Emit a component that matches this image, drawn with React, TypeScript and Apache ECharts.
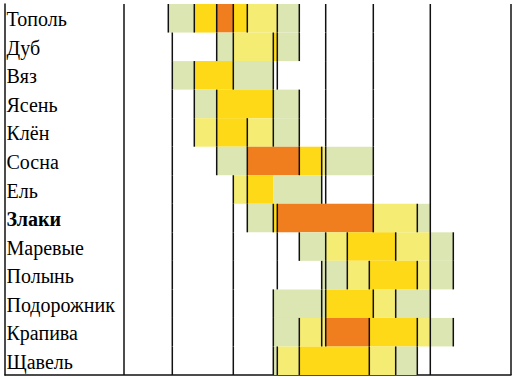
import React, { useEffect, useRef } from "react";
import * as echarts from "echarts";

// Plants (rows, top to bottom)
const plants = [
  "Тополь", "Дуб", "Вяз", "Ясень", "Клён", "Сосна", "Ель",
  "Злаки", "Маревые", "Полынь", "Подорожник", "Крапива", "Щавель",
];
const boldPlants = ["Злаки"];

// Intensity levels: 1 low, 2 moderate, 3 high, 4 very high
const levelColors = ["#DCE6B3", "#F5EC74", "#FDD918", "#F07E1F"];

// Segments per plant: [start, end, level] on the season scale
const topol = [[168.3, 194.3, 1], [194.3, 216.7, 3], [216.7, 233.3, 4], [233.3, 247.3, 3], [247.3, 277.3, 2], [277.3, 299.3, 1]];
const dub = [[216.7, 233.3, 1], [233.3, 273.3, 2], [273.3, 277.3, 3], [277.3, 299.3, 1]];
const vyaz = [[172.3, 194.3, 1], [194.3, 233.3, 3], [233.3, 273.3, 1]];
const yasen = [[194.3, 216.7, 1], [216.7, 273.3, 3], [273.3, 299.3, 1]];
const klen = [[194.3, 216.7, 2], [216.7, 247.3, 3], [247.3, 273.3, 2], [273.3, 299.3, 1]];
const sosna = [[216.7, 247.3, 1], [247.3, 299.3, 4], [299.3, 321.7, 3], [321.7, 325.7, 2], [325.7, 373.3, 1]];
const el = [[233.3, 247.3, 2], [247.3, 273.3, 3], [273.3, 321.7, 1]];
const zlaki = [[247.3, 273.3, 1], [273.3, 277.3, 3], [277.3, 373.3, 4], [373.3, 417.3, 2], [417.3, 430.3, 1]];
const marevye = [[299.3, 325.7, 1], [325.7, 347.3, 2], [347.3, 395.7, 3], [395.7, 430.3, 2], [430.3, 453.3, 1]];
const polyn = [[321.7, 347.3, 1], [347.3, 369.3, 2], [369.3, 417.3, 3], [417.3, 430.3, 2], [430.3, 453.3, 1]];
const podorozhnik = [[273.3, 325.7, 1], [325.7, 373.3, 3], [373.3, 395.7, 2], [395.7, 430.3, 1]];
const krapiva = [[273.3, 299.3, 1], [299.3, 325.7, 2], [325.7, 369.3, 4], [369.3, 417.3, 3], [417.3, 430.3, 2], [430.3, 453.3, 1]];
const shchavel = [[273.3, 277.3, 1], [277.3, 299.3, 2], [299.3, 369.3, 3], [369.3, 395.7, 2], [395.7, 417.3, 1]];
const segmentsByRow = [topol, dub, vyaz, yasen, klen, sosna, el, zlaki, marevye, polyn, podorozhnik, krapiva, shchavel];

// Period boundaries marked in each row
const topolMarks = [168.3, 194.3, 216.7, 233.3, 247.3, 277.3, 299.3, 325.7, 373.3];
const dubMarks = [172.3, 216.7, 233.3, 273.3, 277.3, 299.3, 325.7, 373.3];
const vyazMarks = [172.3, 194.3, 233.3, 273.3, 277.3, 325.7, 373.3];
const yasenMarks = [172.3, 194.3, 216.7, 273.3, 299.3, 325.7, 373.3];
const klenMarks = [172.3, 194.3, 216.7, 247.3, 273.3, 299.3, 325.7, 373.3];
const sosnaMarks = [172.3, 216.7, 247.3, 299.3, 321.7, 325.7, 373.3];
const elMarks = [172.3, 233.3, 247.3, 321.7, 325.7, 373.3];
const zlakiMarks = [172.3, 233.3, 247.3, 273.3, 277.3, 373.3, 417.3];
const marevyeMarks = [172.3, 233.3, 277.3, 299.3, 325.7, 347.3, 395.7, 453.3];
const polynMarks = [172.3, 233.3, 277.3, 321.7, 325.7, 347.3, 369.3, 417.3, 453.3];
const podorozhnikMarks = [172.3, 233.3, 273.3, 321.7, 325.7, 373.3, 395.7];
const krapivaMarks = [172.3, 233.3, 273.3, 299.3, 321.7, 325.7, 369.3, 417.3, 453.3];
const shchavelMarks = [172.3, 233.3, 273.3, 277.3, 299.3, 369.3, 395.7, 417.3];
const marksByRow = [topolMarks, dubMarks, vyazMarks, yasenMarks, klenMarks, sosnaMarks, elMarks, zlakiMarks, marevyeMarks, polynMarks, podorozhnikMarks, krapivaMarks, shchavelMarks];

// Column lines spanning the whole table
const fullLines = [124, 430.3, 511];

const scaleMin = 5;
const scaleMax = 511;

export default function App() {
  const ref = useRef<HTMLDivElement>(null);

  useEffect(() => {
    if (!ref.current) return;
    const chart = echarts.init(ref.current, null, { renderer: "svg" });

    const rectData: number[][] = [];
    segmentsByRow.forEach((segs, r) => segs.forEach((s) => rectData.push([r, s[0], s[1], s[2]])));
    const markData: number[][] = [];
    marksByRow.forEach((ms, r) => ms.forEach((x) => markData.push([r, x])));
    const fullData = fullLines.map((x) => [x]);
    const labelData = plants.map((_, i) => [i, scaleMin]);

    const lineStyle = { stroke: "#111", lineWidth: 1.5 };
    const font = "Liberation Serif";

    chart.setOption({
      animation: false,
      grid: { left: 5, right: 5, top: 4, bottom: 4, containLabel: false },
      xAxis: {
        type: "value",
        min: scaleMin,
        max: scaleMax,
        axisLine: { show: true, lineStyle: { color: "#111", width: 1.5 } },
        axisTick: { show: false },
        axisLabel: { show: false },
        splitLine: { show: false },
      },
      yAxis: {
        type: "category",
        data: plants,
        inverse: true,
        axisLine: { show: true, lineStyle: { color: "#111", width: 1.5 } },
        axisTick: { show: false },
        splitLine: { show: false },
        axisLabel: { show: false },
      },
      series: [
        {
          type: "custom",
          data: rectData,
          encode: { y: 0, x: [1, 2] },
          z: 1,
          renderItem: (params: any, api: any) => {
            const row = api.value(0);
            const p0 = api.coord([api.value(1), row]);
            const p1 = api.coord([api.value(2), row]);
            const h = api.size([0, 1])[1];
            return {
              type: "rect",
              shape: { x: p0[0], y: p0[1] - h / 2, width: p1[0] - p0[0], height: h },
              style: { fill: levelColors[api.value(3) - 1] },
            };
          },
        },
        {
          type: "custom",
          data: markData,
          encode: { y: 0, x: 1 },
          z: 2,
          clip: false,
          renderItem: (params: any, api: any) => {
            const p = api.coord([api.value(1), api.value(0)]);
            const h = api.size([0, 1])[1];
            return {
              type: "line",
              shape: { x1: p[0], y1: p[1] - h / 2, x2: p[0], y2: p[1] + h / 2 },
              style: lineStyle,
            };
          },
        },
        {
          type: "custom",
          data: fullData,
          encode: { x: 0 },
          z: 2,
          clip: false,
          renderItem: (params: any, api: any) => {
            const cs = params.coordSys;
            const p = api.coord([api.value(0), 0]);
            return {
              type: "line",
              shape: { x1: p[0], y1: cs.y, x2: p[0], y2: cs.y + cs.height },
              style: lineStyle,
            };
          },
        },
        {
          type: "custom",
          data: labelData,
          encode: { y: 0, x: 1 },
          z: 5,
          clip: false,
          renderItem: (params: any, api: any) => {
            const idx = api.value(0);
            const p = api.coord([api.value(1), idx]);
            const name = plants[idx];
            return {
              type: "text",
              x: p[0] + 1.5,
              y: p[1] + 1,
              style: {
                text: name,
                fill: "#000",
                fontFamily: font,
                fontSize: 20,
                fontWeight: boldPlants.includes(name) ? "bold" : "normal",
                align: "left",
                verticalAlign: "middle",
              },
            };
          },
        },
      ],
    });

    return () => chart.dispose();
  }, []);

  return <div ref={ref} style={{ width: 516, height: 379, position: "absolute", left: 0, top: 0 }} />;
}
